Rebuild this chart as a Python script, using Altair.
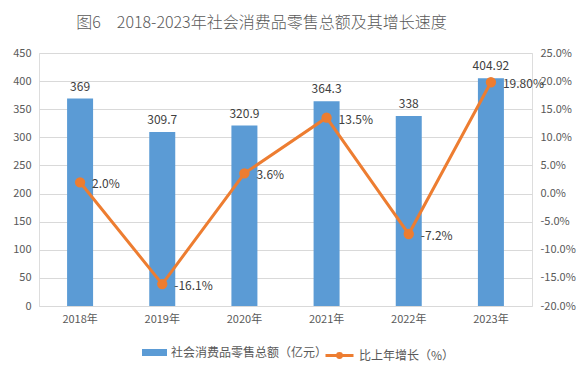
import altair as alt
import pandas as pd

years = ["2018年", "2019年", "2020年", "2021年", "2022年", "2023年"]
sales = [369, 309.7, 320.9, 364.3, 338, 404.92]
growth = [2.0, -16.1, 3.6, 13.5, -7.2, 19.8]
growth_labels = ["2.0%", "-16.1%", "3.6%", "13.5%", "-7.2%", "19.80%"]
bar_name = "社会消费品零售总额（亿元）"
line_name = "比上年增长（%）"

df = pd.DataFrame({
    "year": years,
    "sales": sales,
    "growth": growth,
    "glabel": growth_labels,
    "bseries": [bar_name] * len(years),
    "lseries": [line_name] * len(years),
})

FONT = "Noto Sans CJK SC"
GRAY = "#595959"
BLUE = "#5B9BD5"
ORANGE = "#ED7D31"

x = alt.X("year:N", sort=years, title=None,
          axis=alt.Axis(labelAngle=0, ticks=False, domain=False, labelPadding=7,
                        labelColor=GRAY, labelFontSize=11, labelFont=FONT))

sy = alt.Y("sales:Q", title=None,
           scale=alt.Scale(domain=[0, 450], nice=False),
           axis=alt.Axis(values=list(range(0, 451, 50)), ticks=False, domain=False,
                         labelPadding=8, labelColor=GRAY, labelFontSize=11, labelFont=FONT,
                         labelOverlap=False,
                         gridColor="#D9D9D9", gridWidth=1))

gy = alt.Y("growth:Q", title=None,
           scale=alt.Scale(domain=[-20, 25], nice=False),
           axis=alt.Axis(orient="right", values=list(range(-20, 26, 5)), ticks=False,
                         domain=False, grid=False, labelPadding=8, labelColor=GRAY,
                         labelFontSize=11, labelFont=FONT, labelOverlap=False,
                         labelExpr="(datum.value < 0 ? '-' : '') + format(abs(datum.value), '.1f') + '%'"))

bars = alt.Chart(df).mark_bar(size=26).encode(
    x=x,
    y=sy,
    color=alt.Color("bseries:N", title=None,
                    scale=alt.Scale(domain=[bar_name], range=[BLUE]),
                    legend=alt.Legend(orient="none", legendX=103, legendY=287,
                                      direction="horizontal",
                                      symbolType="M-1,-0.28H1V0.28H-1Z",
                                      symbolSize=625, symbolStrokeWidth=0, symbolOpacity=1,
                                      labelFont=FONT, labelFontSize=12, labelColor=GRAY,
                                      labelOffset=4)),
)

bar_text = alt.Chart(df).mark_text(dy=-5, baseline="bottom", font=FONT, fontSize=12,
                                   color="#404040").encode(
    x=x, y=sy,
    text=alt.Text("sales:Q"),
)

left = alt.layer(bars, bar_text)

line = alt.Chart(df).mark_line(strokeWidth=3,
                               point=alt.OverlayMarkDef(color=ORANGE, size=70, filled=True, opacity=1)).encode(
    x=x, y=gy,
    stroke=alt.Stroke("lseries:N", title=None,
                      scale=alt.Scale(domain=[line_name], range=[ORANGE]),
                      legend=alt.Legend(orient="none", legendX=285, legendY=287,
                                        direction="horizontal",
                                        symbolType="M-1,0H1M0.14,0A0.14,0.14 0 1 1 -0.14,0A0.14,0.14 0 1 1 0.14,0Z",
                                        symbolSize=784, symbolStrokeWidth=3, symbolOpacity=1,
                                        symbolFillColor=ORANGE,
                                        labelFont=FONT, labelFontSize=12, labelColor=GRAY,
                                        labelOffset=4)),
)

line_text = alt.Chart(df).mark_text(align="left", dx=12, dy=2, baseline="middle", font=FONT,
                                    fontSize=12, color="#404040").encode(
    x=x, y=gy,
    text="glabel:N",
)

right = alt.layer(line, line_text)

chart = alt.layer(left, right).resolve_scale(y="independent").properties(
    width=493, height=253,
    autosize=alt.AutoSizeParams(type="none"),
    padding={"left": 31, "top": 45, "right": 46, "bottom": 57},
    title=alt.TitleParams("图6　2018-2023年社会消费品零售总额及其增长速度", font=FONT,
                          fontSize=16, fontWeight=300, color=GRAY, anchor="middle",
                          dx=-24, offset=16),
).configure_view(stroke=None).configure(background="white")

chart.save("out.html", embed_options={"renderer": "svg", "actions": False})
